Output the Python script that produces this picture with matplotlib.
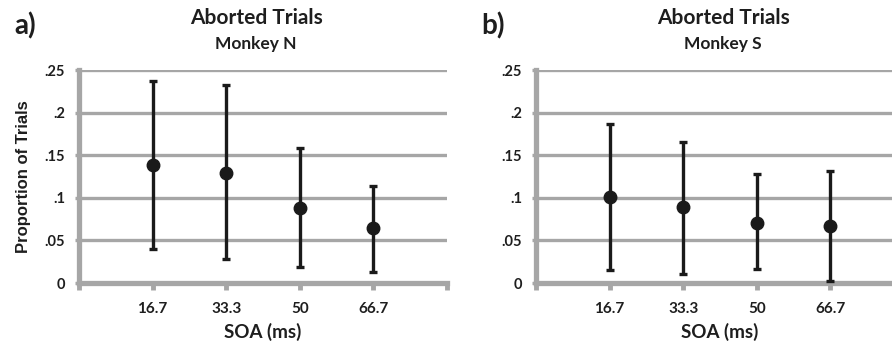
import matplotlib.pyplot as plt

soa = ['16.7', '33.3', '50', '66.7']
pos = [1, 2, 3, 4]

# monkey N
mean_n = [0.138, 0.129, 0.088, 0.064]
top_n = [0.237, 0.232, 0.159, 0.114]
bot_n = [0.040, 0.028, 0.019, 0.013]

# monkey S
mean_s = [0.101, 0.089, 0.071, 0.067]
top_s = [0.187, 0.166, 0.128, 0.131]
bot_s = [0.015, 0.011, 0.016, 0.002]

yticks = [0, 0.05, 0.1, 0.15, 0.2, 0.25]
ylabels = ['0', '.05', '.1', '.15', '.2', '.25']

plt.rcParams['font.family'] = ['Lato', 'DejaVu Sans']
grey = '#a6a6a6'
dark = '#1a1a1a'
txt = '#1e1e1e'

fig = plt.figure(figsize=(8.92, 3.47), dpi=100)
ax1 = fig.add_axes([0.0886, 0.1844, 0.4126, 0.6138])
ax2 = fig.add_axes([0.6009, 0.1844, 0.4126, 0.6138])


def panel(ax, mean, top, bot):
    err = [[m - b for m, b in zip(mean, bot)], [t - m for m, t in zip(mean, top)]]
    ax.errorbar(pos, mean, yerr=err, fmt='o', color=dark, ms=9,
                elinewidth=2.4, capsize=3, capthick=2.4, zorder=5)
    ax.set_xlim(0, 5)
    ax.set_ylim(0, 0.25)
    ax.set_yticks(yticks)
    ax.set_yticklabels(ylabels)
    ax.set_xticks([0, 1, 2, 3, 4, 5])
    ax.set_xticklabels([''] + soa + [''])
    ax.yaxis.grid(True, color=grey, lw=2.4)
    ax.set_axisbelow(True)
    for s in ['top', 'right']:
        ax.spines[s].set_visible(False)
    for s in ['left', 'bottom']:
        ax.spines[s].set_color(grey)
        ax.spines[s].set_linewidth(3.8)
    ax.tick_params(axis='y', length=3, width=2.4, color=grey, pad=7,
                   labelsize=10.5, labelcolor=txt)
    ax.tick_params(axis='x', length=5, width=3.5, color=grey, pad=9,
                   labelsize=11, labelcolor=txt)
    for lab in ax.get_xticklabels() + ax.get_yticklabels():
        lab.set_fontweight('bold')
    ax.set_xlabel('SOA (ms)', fontsize=13.5, fontweight='bold', labelpad=5,
                  color=txt)


panel(ax1, mean_n, top_n, bot_n)
panel(ax2, mean_s, top_s, bot_s)

ax1.set_ylabel('Proportion of Trials', family='Liberation Sans', fontsize=12,
               fontweight='bold', labelpad=10, color=txt)

fig.text(256 / 892, 1 - 18 / 347, 'Aborted Trials', ha='center', va='center',
         fontsize=15, fontweight='bold', color=txt)
fig.text(256 / 892, 1 - 44 / 347, 'Monkey N', ha='center', va='center',
         fontsize=12.5, fontweight='bold', color=txt)
fig.text(723 / 892, 1 - 18 / 347, 'Aborted Trials', ha='center', va='center',
         fontsize=15, fontweight='bold', color=txt)
fig.text(723 / 892, 1 - 44 / 347, 'Monkey S', ha='center', va='center',
         fontsize=12.5, fontweight='bold', color=txt)

fig.text(25 / 892, 1 - 26 / 347, 'a)', ha='center', va='center',
         fontsize=20, fontweight='bold', color=txt)
fig.text(493 / 892, 1 - 26 / 347, 'b)', ha='center', va='center',
         fontsize=20, fontweight='bold', color=txt)

fig.savefig('out.png', dpi=100)
